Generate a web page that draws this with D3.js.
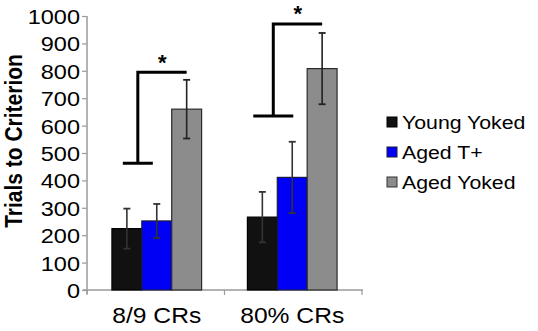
<!DOCTYPE html>
<html>
<head>
<meta charset="utf-8">
<script src="https://cdn.jsdelivr.net/npm/d3@7"></script>
<style>
html,body{margin:0;padding:0;background:#fff;}
text{font-family:"Liberation Sans",Arial,sans-serif;}
</style>
</head>
<body>
<svg id="chart" width="538" height="331"></svg>
<script>
// ---- data ----
const categories = ["8/9 CRs", "80% CRs"];
const seriesNames = ["Young Yoked", "Aged T+", "Aged Yoked"];
const youngYoked = [224, 266];
const agedTplus = [252, 411];
const agedYoked = [660, 808];
const youngYokedErr = [73, 92];
const agedTplusErr = [62, 130];
const agedYokedErr = [107, 130];
const yTicks = [0, 100, 200, 300, 400, 500, 600, 700, 800, 900, 1000];
const bracketLow = [463, 635];   // bottom of significance bracket (value units)
const bracketHigh = [795, 971];  // top of significance bracket (value units)
const yTitle = "Trials to Criterion";

const values = [youngYoked, agedTplus, agedYoked];
const errors = [youngYokedErr, agedTplusErr, agedYokedErr];
const colors = ["#111111", "#0000f5", "#8c8c8c"];
const strokes = ["#000000", "#1a1a40", "#2a2a2a"];

const svg = d3.select("#chart");
const SX = 1.12; // horizontal text stretch

const x0 = d3.scaleBand().domain(categories).range([87, 362]).paddingInner(0.338).paddingOuter(0.184);
const x1 = d3.scaleBand().domain(seriesNames).range([0, x0.bandwidth()]).padding(0);
const y = d3.scaleLinear().domain([0, 1000]).range([290, 16]);

// y axis
const yAxis = svg.append("g").attr("transform", "translate(87,0)")
  .call(d3.axisLeft(y).tickValues(yTicks).tickSize(5).tickSizeOuter(0).tickFormat(d3.format("d")));
yAxis.attr("font-family", null);
yAxis.select(".domain").remove();
yAxis.append("line").attr("x1", 0).attr("x2", 0).attr("y1", y(1000)).attr("y2", 294)
  .attr("stroke", "#9a9a9a").attr("stroke-width", 1.5);
yAxis.selectAll(".tick line").attr("stroke", "#9a9a9a").attr("stroke-width", 1.2);
yAxis.selectAll(".tick text").attr("x", null).attr("y", null).attr("dx", null).attr("dy", null)
  .attr("font-size", 21).attr("fill", "#000").attr("text-anchor", "end")
  .attr("transform", `translate(-7,7.5) scale(${SX},1)`);

// x axis
const xAxis = svg.append("g").attr("transform", "translate(0,290)");
xAxis.append("line").attr("x1", 83).attr("x2", 363).attr("y1", 0).attr("y2", 0)
  .attr("stroke", "#9a9a9a").attr("stroke-width", 1.5);
const xTickPos = [x0.range()[0], (x0(categories[0]) + x0.bandwidth() + x0(categories[1])) / 2, x0.range()[1]];
xAxis.selectAll(".xt").data(xTickPos).enter().append("line")
  .attr("x1", d => d).attr("x2", d => d).attr("y1", 0).attr("y2", 5)
  .attr("stroke", "#9a9a9a").attr("stroke-width", 1.2);
xAxis.selectAll(".xl").data(categories).enter().append("text")
  .attr("font-size", 22).attr("text-anchor", "middle").attr("fill", "#000")
  .attr("transform", d => `translate(${x0(d) + x0.bandwidth() / 2},33) scale(${SX},1)`)
  .text(d => d);

// bars
const groups = svg.append("g").selectAll("g").data(categories).enter().append("g")
  .attr("transform", d => `translate(${x0(d)},0)`);
groups.each(function (cat, ci) {
  const g = d3.select(this);
  seriesNames.forEach((s, si) => {
    const v = values[si][ci];
    g.append("rect").attr("x", x1(s)).attr("y", y(v)).attr("width", x1.bandwidth())
      .attr("height", y(0) - y(v)).attr("fill", colors[si])
      .attr("stroke", strokes[si]).attr("stroke-width", 1.2);
  });
  seriesNames.forEach((s, si) => {
    const v = values[si][ci], e = errors[si][ci];
    const cx = x1(s) + x1.bandwidth() / 2;
    const ec = si === 2 ? "#222" : "#333";
    g.append("line").attr("x1", cx).attr("x2", cx).attr("y1", y(v + e)).attr("y2", y(v - e))
      .attr("stroke", ec).attr("stroke-width", 1.6);
    [v + e, v - e].forEach(t => {
      g.append("line").attr("x1", cx - 3.5).attr("x2", cx + 3.5).attr("y1", y(t)).attr("y2", y(t))
        .attr("stroke", ec).attr("stroke-width", 1.8);
    });
  });
  // significance bracket
  const vx = x1(seriesNames[1]) - 4;
  const endX = x1(seriesNames[2]) + x1.bandwidth() / 2;
  const hw = ci === 0 ? 15 : 20;
  const bl = bracketLow[ci], bh = bracketHigh[ci];
  g.append("path")
    .attr("d", `M${vx - hw},${y(bl)}H${vx + hw}M${vx},${y(bl)}V${y(bh)}H${endX}`)
    .attr("fill", "none").attr("stroke", "#000").attr("stroke-width", 3);
  g.append("text").attr("x", (vx + endX) / 2).attr("y", y(bh) - 2.5)
    .attr("font-size", 22).attr("font-weight", "bold").attr("text-anchor", "middle")
    .text("*");
});

// legend
const legend = svg.append("g").attr("transform", "translate(387,0)");
const legY = [122, 152, 182];
seriesNames.forEach((s, i) => {
  legend.append("rect").attr("x", 0).attr("y", legY[i] - 5).attr("width", 10).attr("height", 10)
    .attr("fill", colors[i]).attr("stroke", i === 2 ? "#333" : strokes[i]).attr("stroke-width", 1);
  legend.append("text").attr("font-size", 19).attr("fill", "#000")
    .attr("transform", `translate(15,${legY[i] + 7}) scale(${SX},1)`).text(s);
});

// y title
svg.append("text").attr("font-size", 21).attr("font-weight", "bold").attr("text-anchor", "middle")
  .attr("transform", `translate(21.5,141) scale(${SX},1) rotate(-90)`).text(yTitle);
</script>
</body>
</html>
